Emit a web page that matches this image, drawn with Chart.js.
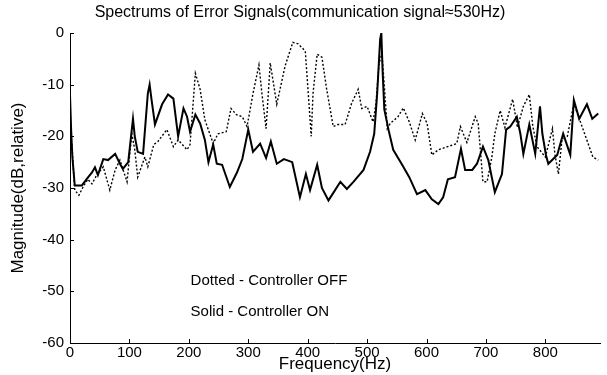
<!DOCTYPE html>
<html>
<head>
<meta charset="utf-8">
<script src="https://cdn.jsdelivr.net/npm/chart.js@4.4.0/dist/chart.umd.min.js"></script>
<style>
  html, body { margin: 0; padding: 0; background: #fff; }
  #spec { display: block; }
</style>
</head>
<body>
<canvas id="spec" width="607" height="375"></canvas>
<script>
// Datos (frecuencia en Hz, magnitud en dB relativos)

// Solid - Controller ON
const freqOn = [0, 2, 4, 8, 20, 30, 37, 42, 47, 56, 64, 76, 84, 89, 98, 106, 109, 114, 123, 131,
    134, 137, 143, 155, 165, 174, 182, 191, 197, 202, 211, 219, 227, 233, 241, 247, 256, 269, 281, 290,
    300, 308, 320, 330, 338, 348, 360, 374, 387, 397, 404, 416, 424, 435, 444, 455, 466, 477, 494, 505,
    512, 517, 522, 524, 526, 529, 536, 544, 559, 571, 584, 598, 609, 620, 628, 636, 648, 658, 665, 677,
    685, 695, 704, 715, 727, 734, 741, 752, 758, 763, 773, 783, 791, 795, 801, 805, 820, 830, 842, 848,
    857, 870, 879, 889];
const magOn = [-12, -19, -24, -29.5, -29.5, -28, -27, -26, -27.5, -24.4, -24.6, -23.4, -25.3, -26.3, -25, -16.6, -20, -23, -23.4, -11.7,
    -10, -12.7, -17.7, -13.8, -11.9, -12.7, -20, -14.6, -16.2, -19.1, -15.8, -17.5, -20.7, -25, -21.6, -25.3, -25.5, -29.8, -27, -24.4,
    -18.7, -23, -21.4, -24.2, -21, -25.3, -24.4, -25, -31.8, -27.3, -30.4, -25.5, -30, -32.4, -30.8, -28.8, -30.2, -28.8, -26.5, -23,
    -19.5, -11.7, -1.2, 0, -7, -14.8, -18.7, -22.6, -25.5, -27.9, -31.2, -30.4, -32.2, -33.1, -31.8, -28.3, -27.9, -22.4, -26.5, -26.5,
    -25.3, -22, -24.6, -30.8, -27.3, -18.7, -18.1, -16.2, -19.5, -23.4, -17.7, -23.4, -14.2, -19.5, -23.6, -25.3, -23.6, -19.5, -23.6, -13,
    -16.6, -13.8, -16.6, -15.6];

// Dotted - Controller OFF
const freqOff = [0, 3, 8, 15, 22, 30, 37, 45, 56, 67, 76, 84, 96, 104, 109, 114, 126, 131, 141, 148,
    163, 174, 182, 197, 202, 211, 219, 227, 241, 249, 263, 271, 280, 290, 298, 308, 318, 323, 330, 337,
    348, 362, 375, 384, 396, 401, 406, 409, 416, 424, 432, 443, 451, 463, 474, 485, 491, 500, 510, 515,
    520, 525, 529, 534, 539, 552, 561, 571, 581, 593, 601, 609, 620, 651, 657, 668, 682, 687, 695, 702,
    710, 715, 724, 732, 745, 753, 763, 773, 779, 786, 800, 812, 816, 822, 828, 837, 848, 859, 880, 889];
const magOff = [-20, -21.4, -30.4, -31.4, -29.8, -28.3, -29.2, -27.5, -25.9, -30.4, -26.5, -24.6, -28.8, -19.5, -22.6, -27.9, -24, -25.9, -21.6, -21,
    -18.7, -22, -20.7, -22.6, -21.6, -7.8, -10.9, -16.8, -21.4, -19.5, -19.1, -14.6, -15.8, -16.2, -18.1, -11.7, -6.2, -11.7, -18.5, -5.8,
    -13.8, -6.4, -1.8, -2.1, -3.5, -11.7, -20, -11.7, -4.1, -4.7, -10.9, -18.1, -17.7, -17.7, -13.6, -10.9, -14.6, -14.2, -17.2, -13.6,
    -6, -3.9, -10.3, -18.5, -17.5, -16.2, -14.5, -17.2, -20.7, -15.6, -17.5, -23.6, -22.6, -21.4, -18.1, -21.2, -16.2, -17.5, -28.8, -28.8,
    -24, -19.5, -15, -18.3, -12.8, -18.3, -14.2, -11.9, -18.1, -22, -24, -18.5, -23.4, -27.3, -20.7, -20, -13.7, -17.2, -24, -24.6];

// Marcas de los ejes
const xTicks = [0, 100, 200, 300, 400, 500, 600, 700, 800];
const yTicks = [0, -10, -20, -30, -40, -50, -60];

const FONT = "'Liberation Sans', Arial, Helvetica, sans-serif";

/**
 * Une dos arreglos (x, y) en la lista de puntos que usa Chart.js.
 */
function toPoints(xs, ys) {
    return xs.map((x, i) => ({ x: x, y: ys[i] }));
}

// Dibuja las marcas cortas hacia adentro del área (estilo MATLAB) y el texto de leyenda
const innerTicks = {
    id: "innerTicks",
    afterDraw(chart) {
        const { ctx, scales: { x, y } } = chart;
        ctx.save();
        ctx.strokeStyle = "#000";
        ctx.lineWidth = 1;
        ctx.beginPath();
        yTicks.forEach(v => {
            const py = Math.round(y.getPixelForValue(v)) + 0.5;
            ctx.moveTo(x.left, py);
            ctx.lineTo(x.left + 4, py);
        });
        xTicks.forEach(v => {
            const px = Math.round(x.getPixelForValue(v)) + 0.5;
            ctx.moveTo(px, y.bottom);
            ctx.lineTo(px, y.bottom - 4);
        });
        ctx.stroke();

        // texto de leyenda dentro del gráfico
        ctx.fillStyle = "#000";
        ctx.font = "15px " + FONT;
        ctx.textBaseline = "middle";
        ctx.textAlign = "left";
        ctx.fillText("Dotted - Controller OFF", x.getPixelForValue(203), y.getPixelForValue(-48));
        ctx.fillText("Solid - Controller ON", x.getPixelForValue(203), y.getPixelForValue(-54));
        ctx.restore();
    }
};

function initSpectrumChart() {
    const canvas = document.getElementById("spec");

    new Chart(canvas, {
        type: "line",
        data: {
            datasets: [
                {
                    label: "Dotted - Controller OFF",
                    data: toPoints(freqOff, magOff),
                    borderColor: "#000",
                    borderWidth: 1.4,
                    borderDash: [2, 2],
                    pointRadius: 0,
                    tension: 0,
                    fill: false
                },
                {
                    label: "Solid - Controller ON",
                    data: toPoints(freqOn, magOn),
                    borderColor: "#000",
                    borderWidth: 2,
                    pointRadius: 0,
                    tension: 0,
                    fill: false
                }
            ]
        },
        options: {
            responsive: false,
            animation: false,
            layout: { padding: { left: 0, right: 7, top: 0, bottom: 0 } },
            plugins: {
                legend: { display: false },
                tooltip: { enabled: false },
                title: {
                    display: true,
                    text: "Spectrums of Error Signals(communication signal\u2248530Hz)",
                    color: "#000",
                    font: { family: FONT, size: 16, weight: "normal" },
                    padding: { top: 3, bottom: 10.8 }
                }
            },
            scales: {
                x: {
                    type: "linear",
                    min: 0,
                    max: 892,
                    afterBuildTicks: s => { s.ticks = xTicks.map(v => ({ value: v })); },
                    afterFit: s => { s.height = 32; },
                    grid: { drawOnChartArea: false, drawTicks: false },
                    border: { display: true, color: "#000", width: 1 },
                    ticks: {
                        color: "#000",
                        padding: 1,
                        maxRotation: 0,
                        font: { family: FONT, size: 15 }
                    },
                    title: {
                        display: true,
                        text: "Frequency(Hz)",
                        color: "#000",
                        font: { family: FONT, size: 17 },
                        padding: { top: 0, bottom: 0 }
                    }
                },
                y: {
                    type: "linear",
                    min: -60,
                    max: 0,
                    afterBuildTicks: s => { s.ticks = yTicks.map(v => ({ value: v })); },
                    afterFit: s => { s.width = 70; },
                    grid: { drawOnChartArea: false, drawTicks: false },
                    border: { display: true, color: "#000", width: 1 },
                    ticks: {
                        color: "#000",
                        padding: 6,
                        font: { family: FONT, size: 15 }
                    },
                    title: {
                        display: true,
                        text: "Magnitude(dB,relative)",
                        color: "#000",
                        font: { family: FONT, size: 17 },
                        padding: { top: 8, bottom: 0 }
                    }
                }
            }
        },
        plugins: [innerTicks]
    });
}

document.addEventListener("DOMContentLoaded", initSpectrumChart);
</script>
</body>
</html>
